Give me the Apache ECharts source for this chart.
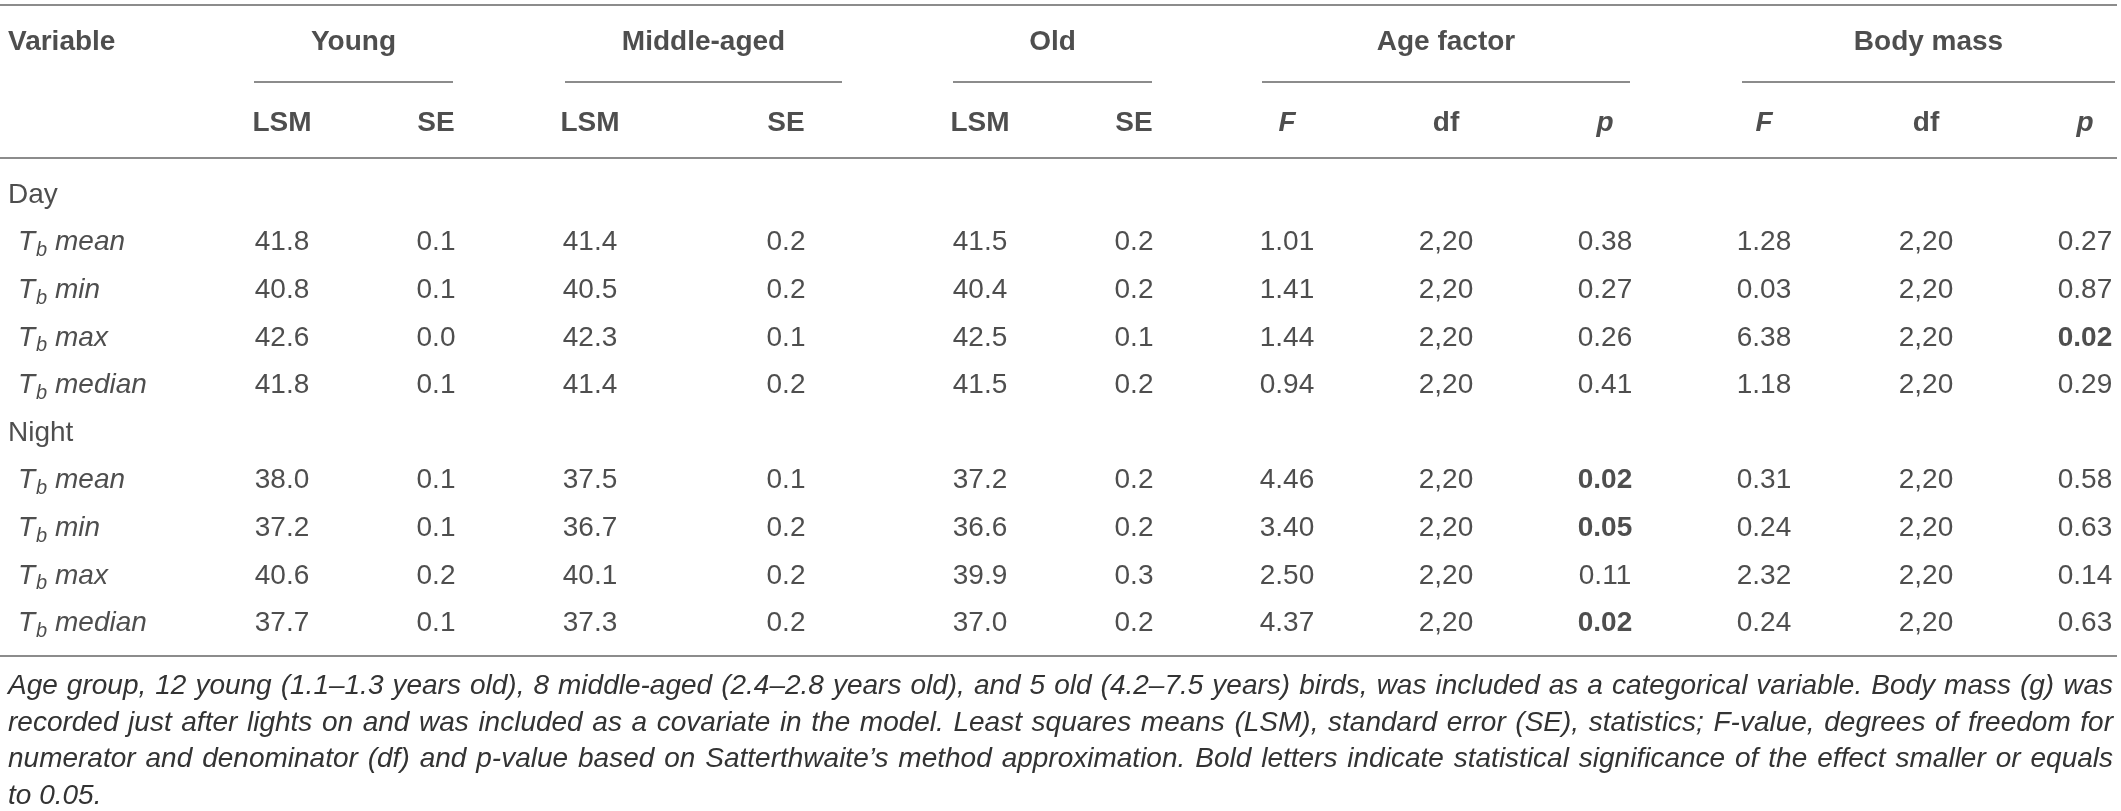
<!DOCTYPE html>
<html>
<head>
<meta charset="utf-8">
<script src="https://cdn.jsdelivr.net/npm/echarts@6/dist/echarts.min.js"></script>
<style>
  html, body { margin: 0; padding: 0; background: #fff; }
  #main { width: 2121px; height: 811px; }
</style>
</head>
<body>
<div id="main"></div>
<script>
// table content
const groups = ['Young', 'Middle-aged', 'Old', 'Age factor', 'Body mass'];
const subHeads = ['LSM', 'SE', 'LSM', 'SE', 'LSM', 'SE', 'F', 'df', 'p', 'F', 'df', 'p'];
const periods = ['Day', 'Night'];
const measures = ['mean', 'min', 'max', 'median'];

// day rows first, then night rows
const youngLSM = [41.8, 40.8, 42.6, 41.8, 38.0, 37.2, 40.6, 37.7];
const youngSE = [0.1, 0.1, 0.0, 0.1, 0.1, 0.1, 0.2, 0.1];
const midLSM = [41.4, 40.5, 42.3, 41.4, 37.5, 36.7, 40.1, 37.3];
const midSE = [0.2, 0.2, 0.1, 0.2, 0.1, 0.2, 0.2, 0.2];
const oldLSM = [41.5, 40.4, 42.5, 41.5, 37.2, 36.6, 39.9, 37.0];
const oldSE = [0.2, 0.2, 0.1, 0.2, 0.2, 0.2, 0.3, 0.2];
const ageF = [1.01, 1.41, 1.44, 0.94, 4.46, 3.40, 2.50, 4.37];
const ageDf = ['2,20', '2,20', '2,20', '2,20', '2,20', '2,20', '2,20', '2,20'];
const ageP = [0.38, 0.27, 0.26, 0.41, 0.02, 0.05, 0.11, 0.02];
const massF = [1.28, 0.03, 6.38, 1.18, 0.31, 0.24, 2.32, 0.24];
const massDf = ['2,20', '2,20', '2,20', '2,20', '2,20', '2,20', '2,20', '2,20'];
const massP = [0.27, 0.87, 0.02, 0.29, 0.58, 0.63, 0.14, 0.63];

const caption = [
  'Age group, 12 young (1.1\u20131.3 years old), 8 middle-aged (2.4\u20132.8 years old), and 5 old (4.2\u20137.5 years) birds, was included as a categorical variable. Body mass (g) was',
  'recorded just after lights on and was included as a covariate in the model. Least squares means (LSM), standard error (SE), statistics; F-value, degrees of freedom for',
  'numerator and denominator (df) and p-value based on Satterthwaite\u2019s method approximation. Bold letters indicate statistical significance of the effect smaller or equals',
  'to 0.05.'
];

// layout (pixel units of the hidden axes)
const FONT = '"Liberation Sans", Arial, sans-serif';
const FS = 28;
const colX = [282, 436, 590, 786, 980, 1134, 1287, 1446, 1605, 1764, 1926, 2085];
const groupSpan = [[254, 453], [565, 842], [953, 1152], [1262, 1630], [1742, 2115]];
const head1Y = 42, head2Y = 123;
const bodyTop = 195, rowStep = 47.6;
const ruleY = [5, 158, 656];
const groupRuleY = 82;
const capTop = 686, capStep = 36.8, capLeft = 8, capRight = 2113;
const CAP_FONT = 'italic 28px ' + FONT;

const columns = [youngLSM, youngSE, midLSM, midSE, oldLSM, oldSE, ageF, ageDf, ageP, massF, massDf, massP];
const digits = [1, 1, 1, 1, 1, 1, 2, null, 2, 2, null, 2];
const isP = [false, false, false, false, false, false, false, false, true, false, false, true];

const textData = [];
const rowY = i => bodyTop + i * rowStep;

// headers
textData.push({ value: [8, head1Y], name: 'Variable', label: { align: 'left', fontWeight: 'bold' } });
groups.forEach((g, i) => {
  textData.push({ value: [(groupSpan[i][0] + groupSpan[i][1]) / 2, head1Y], name: g, label: { fontWeight: 'bold' } });
});
subHeads.forEach((h, i) => {
  const it = h === 'F' || h === 'p';
  textData.push({ value: [colX[i], head2Y], name: h, label: { fontWeight: 'bold', fontStyle: it ? 'italic' : 'normal' } });
});

// body
let r = 0;
periods.forEach((per, pi) => {
  textData.push({ value: [8, rowY(r)], name: per, label: { align: 'left' } });
  r++;
  measures.forEach((m, mi) => {
    const k = pi * measures.length + mi;
    textData.push({ value: [18, rowY(r)], name: '{t|T}{s|b}{t| ' + m + '}', label: { align: 'left' } });
    columns.forEach((col, c) => {
      const v = col[k];
      const txt = digits[c] === null ? v : v.toFixed(digits[c]);
      const bold = isP[c] && v <= 0.05;
      textData.push({ value: [colX[c], rowY(r)], name: txt, label: { fontWeight: bold ? 'bold' : 'normal' } });
    });
    r++;
  });
});

// rules
const ruleData = ruleY.map(y => ({ coords: [[0, y], [2117, y]] }));
groupSpan.forEach(s => ruleData.push({ coords: [[s[0], groupRuleY], [s[1], groupRuleY]] }));

// justified caption: each word placed along the line
const ctx = document.createElement('canvas').getContext('2d');
ctx.font = CAP_FONT;
const capGraphics = [];
caption.forEach((line, i) => {
  const words = line.split(' ');
  const widths = words.map(w => ctx.measureText(w).width);
  const last = i === caption.length - 1;
  const total = widths.reduce((a, b) => a + b, 0);
  const gap = last ? ctx.measureText(' ').width : (capRight - capLeft - total) / (words.length - 1);
  let x = capLeft;
  words.forEach((w, j) => {
    capGraphics.push({
      type: 'text',
      x: x,
      y: capTop + i * capStep,
      style: { text: w, fill: '#333', font: CAP_FONT, textVerticalAlign: 'middle', verticalAlign: 'middle' }
    });
    x += widths[j] + gap;
  });
});

let myChart = echarts.init(document.getElementById('main'));
myChart.setOption({
  animation: false,
  backgroundColor: '#fff',
  grid: { left: 0, right: 0, top: 0, bottom: 0 },
  xAxis: { type: 'value', min: 0, max: 2121, show: false },
  yAxis: { type: 'value', min: 0, max: 811, inverse: true, show: false },
  graphic: capGraphics,
  series: [
    {
      type: 'lines',
      coordinateSystem: 'cartesian2d',
      polyline: false,
      silent: true,
      lineStyle: { color: '#8c8c8c', width: 2, opacity: 1 },
      data: ruleData
    },
    {
      type: 'scatter',
      symbolSize: 1,
      silent: true,
      itemStyle: { color: 'rgba(0,0,0,0)' },
      label: {
        show: true,
        position: 'inside',
        align: 'center',
        verticalAlign: 'middle',
        color: '#222',
        fontFamily: FONT,
        fontSize: FS,
        formatter: p => p.name,
        rich: {
          t: { fontStyle: 'italic', fontSize: FS, fontFamily: FONT, color: '#222' },
          s: { fontStyle: 'italic', fontSize: 20, fontFamily: FONT, color: '#222', padding: [16, 0, 0, 1] }
        }
      },
      data: textData
    }
  ]
});
</script>
</body>
</html>
